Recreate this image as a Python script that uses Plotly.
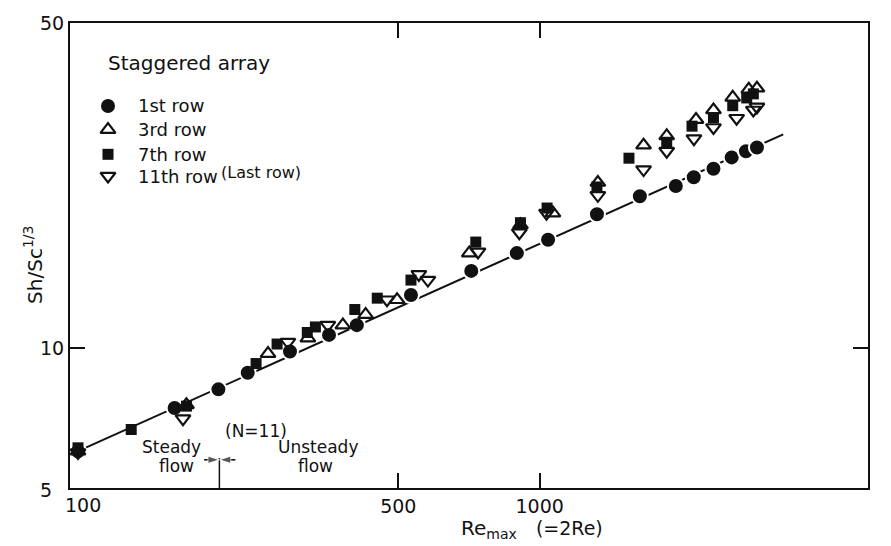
import math
import plotly.graph_objects as go

# ---- data ----
re_row1 = [104, 167, 207, 239, 294, 356, 408, 532, 715, 894, 1042, 1324, 1634, 1949, 2128, 2344, 2563, 2749, 2901]
sh_row1 = [6.0, 7.43, 8.15, 8.85, 9.83, 10.67, 11.2, 13.0, 14.65, 16.0, 17.1, 19.4, 21.2, 22.3, 23.3, 24.3, 25.7, 26.5, 27.0]

re_row3 = [104, 177, 264, 321, 381, 426, 497, 708, 910, 1067, 1330, 1664, 1864, 2152, 2344, 2576, 2787, 2901]
sh_row3 = [6.0, 7.55, 9.73, 10.5, 11.2, 11.8, 12.7, 16.0, 18.4, 19.5, 22.7, 27.3, 28.6, 31.0, 32.5, 34.6, 36.0, 36.2]

re_row7 = [104, 135, 177, 249, 276, 320, 333, 404, 451, 532, 731, 910, 1037, 1324, 1549, 1864, 2110, 2344, 2576, 2759, 2850]
sh_row7 = [6.1, 6.68, 7.5, 9.26, 10.2, 10.8, 11.1, 12.1, 12.8, 14.0, 16.9, 18.6, 20.0, 22.2, 25.6, 27.7, 30.0, 31.3, 33.2, 34.5, 35.2]

re_row11 = [104, 174, 291, 354, 473, 553, 578, 739, 905, 1034, 1330, 1664, 1864, 2130, 2344, 2626, 2850, 2901]
sh_row11 = [5.96, 7.05, 10.3, 11.2, 12.7, 14.4, 14.0, 16.1, 17.7, 19.5, 21.3, 24.2, 26.5, 28.2, 29.8, 31.2, 32.5, 33.0]

fit_re = [104, 3300]
fit_sh = [6.0, 28.8]

transition_re = 208
transition_sh = [5, 5.8]
arrow_tails_re = [193, 225]
arrow_sh = 5.75

series_names = ["1st row", "3rd row", "7th row", "11th row"]

x_ticks = [100, 500, 1000, 5000]
x_tick_labels = ["100", "500", "1000", "5000"]
y_ticks = [5, 10, 50]
y_tick_labels = ["5", "10", "50"]

FONT = "DejaVu Sans"
BLACK = "#111111"

L, R, T, B = 70, 23, 17, 58
W, H = 891, 546
pw, ph = W - L - R, H - T - B


def px(xp):
    return (xp - L) / pw


def py(yp):
    return (H - B - yp) / ph


styles = [
    dict(symbol="circle", size=16, color=BLACK, line=dict(color="white", width=2)),
    dict(symbol="triangle-up-open", size=13, color=BLACK, line=dict(color=BLACK, width=2.2)),
    dict(symbol="square", size=11, color=BLACK, line=dict(color=BLACK, width=0)),
    dict(symbol="triangle-down-open", size=13, color=BLACK, line=dict(color=BLACK, width=2.2)),
]
series = [(re_row1, sh_row1), (re_row3, sh_row3), (re_row7, sh_row7), (re_row11, sh_row11)]

fig = go.Figure()

fig.add_trace(go.Scatter(x=fit_re, y=fit_sh, mode="lines",
                         line=dict(color=BLACK, width=2), showlegend=False, hoverinfo="skip"))
fig.add_trace(go.Scatter(x=[transition_re, transition_re], y=transition_sh, mode="lines",
                         line=dict(color=BLACK, width=1.5), showlegend=False, hoverinfo="skip"))
for tail in arrow_tails_re:
    fig.add_trace(go.Scatter(x=[tail, transition_re], y=[arrow_sh, arrow_sh], mode="lines+markers",
                             line=dict(color=BLACK, width=1.6),
                             marker=dict(symbol="arrow", size=[0, 12], angleref="previous", color=BLACK),
                             showlegend=False, hoverinfo="skip"))

for (xs, ys), name, st in zip(series, series_names, styles):
    fig.add_trace(go.Scatter(x=xs, y=ys, mode="markers", name=name, marker=st, showlegend=False))

# hand-drawn legend keys (on an overlay 0..1 axis)
legend_rows_px = [101, 125, 150, 172]
for name, st, yrow in zip(series_names, styles, legend_rows_px):
    fig.add_trace(go.Scatter(x=[px(108)], y=[py(yrow)], mode="markers", marker=st,
                             xaxis="x2", yaxis="y2", showlegend=False, hoverinfo="skip"))

tick_font = dict(family=FONT, size=19, color=BLACK)

annotations = [
    dict(text="Staggered array", x=px(106), y=py(58), xref="paper", yref="paper",
         xanchor="left", yanchor="middle", showarrow=False,
         font=dict(family=FONT, size=20, color=BLACK)),
    dict(text="Sh/Sc<sup>1/3</sup>", x=px(33), y=py(262), xref="paper", yref="paper",
         textangle=-90, xanchor="center", yanchor="middle", showarrow=False,
         font=dict(family=FONT, size=20, color=BLACK)),
    dict(text="Re<sub>max</sub>   <span style='font-size:19px'>(=2Re)</span>",
         x=px(459), y=py(530), xref="paper", yref="paper",
         xanchor="left", yanchor="middle", showarrow=False,
         font=dict(family=FONT, size=20, color=BLACK)),
    dict(text="(N=11)", x=px(223), y=py(442), xref="paper", yref="paper",
         showarrow=False, font=dict(family=FONT, size=17, color=BLACK)),
    dict(text="Steady", x=px(140), y=py(459), xref="paper", yref="paper",
         showarrow=False, font=dict(family=FONT, size=17, color=BLACK)),
    dict(text="flow", x=px(157), y=py(478), xref="paper", yref="paper",
         showarrow=False, font=dict(family=FONT, size=17, color=BLACK)),
    dict(text="Unsteady", x=px(276), y=py(459), xref="paper", yref="paper",
         showarrow=False, font=dict(family=FONT, size=17, color=BLACK)),
    dict(text="flow", x=px(296), y=py(478), xref="paper", yref="paper",
         showarrow=False, font=dict(family=FONT, size=17, color=BLACK)),
    # corner tick labels, placed as in the reference (offset from the shared corner)
    dict(text=x_tick_labels[0], x=px(63), y=py(505), xref="paper", yref="paper",
         xanchor="left", yanchor="middle", showarrow=False, font=tick_font),
    dict(text=y_tick_labels[0], x=px(54), y=py(490), xref="paper", yref="paper",
         xanchor="right", yanchor="middle", showarrow=False, font=tick_font),
]
for name, yrow in zip(series_names, legend_rows_px):
    annotations.append(dict(text=name, x=px(136), y=py(yrow), xref="paper", yref="paper",
                            xanchor="left", yanchor="middle", showarrow=False,
                            font=dict(family=FONT, size=18, color=BLACK)))
annotations.append(dict(text="(Last row)", x=px(219), y=py(168), xref="paper", yref="paper",
                        xanchor="left", yanchor="middle", showarrow=False,
                        font=dict(family=FONT, size=16, color=BLACK)))

axis_common = dict(type="log", showgrid=False, zeroline=False, showline=True,
                   linecolor=BLACK, linewidth=2, mirror="ticks", ticks="inside",
                   tickcolor=BLACK, tickwidth=2, ticklen=15, tickfont=tick_font)

fig.update_layout(
    width=W, height=H,
    margin=dict(l=L, r=R, t=T, b=B),
    paper_bgcolor="white", plot_bgcolor="white",
    font=dict(family=FONT, color=BLACK),
    xaxis=dict(axis_common, range=[math.log10(100), math.log10(5000)],
               tickvals=x_ticks[1:], ticktext=x_tick_labels[1:], ticklabelstandoff=0),
    yaxis=dict(axis_common, range=[math.log10(5), math.log10(50)],
               tickvals=y_ticks[1:], ticktext=y_tick_labels[1:], ticklabelstandoff=0),
    xaxis2=dict(overlaying="x", range=[0, 1], visible=False, fixedrange=True),
    yaxis2=dict(overlaying="y", range=[0, 1], visible=False, fixedrange=True),
    showlegend=False,
    annotations=annotations,
)

fig.write_html("out.html", config={"displayModeBar": False},
               post_script="document.body.style.margin='0';")
